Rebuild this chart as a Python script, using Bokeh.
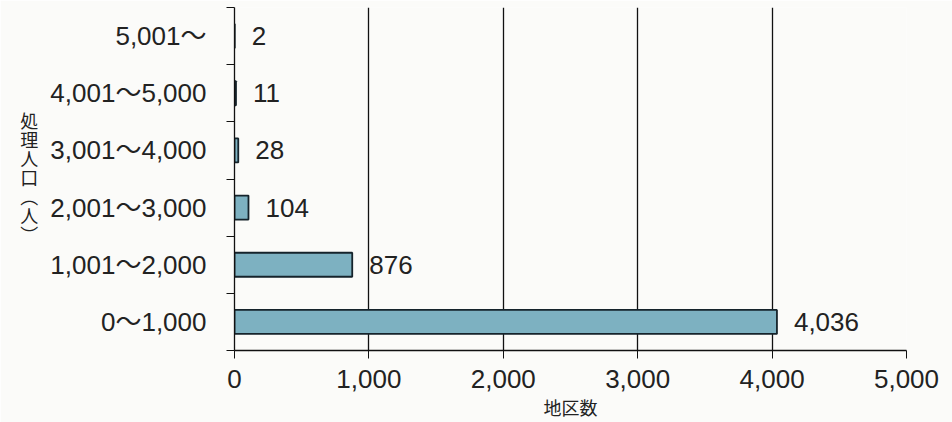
from bokeh.plotting import figure
from bokeh.models import FixedTicker, ColumnDataSource, Range1d
from bokeh.core.properties import value
from bokeh.embed import file_html
from bokeh.resources import INLINE

categories = ["0～1,000", "1,001～2,000", "2,001～3,000", "3,001～4,000", "4,001～5,000", "5,001～"]
counts = [4036, 876, 104, 28, 11, 2]
x_ticks = [0, 1000, 2000, 3000, 4000, 5000]
x_tick_labels = ["0", "1,000", "2,000", "3,000", "4,000", "5,000"]
y_title = "処理人口︵人︶"
x_title = "地区数"

FONT_S = "'Liberation Sans', 'Noto Sans CJK JP', sans-serif"
FONT = value(FONT_S)
pos = list(range(len(categories)))
src = ColumnDataSource(dict(pos=pos, count=counts, label=[f"{c:,}" for c in counts]))

p = figure(width=952, height=422, x_range=Range1d(0, 5000), y_range=Range1d(-0.5, len(categories) - 0.5),
           output_backend="svg", toolbar_location=None,
           min_border_left=234, min_border_right=46, min_border_top=7, min_border_bottom=72,
           background_fill_color="#fbfbf9", border_fill_color="#fbfbf9")
p.outline_line_color = None

p.hbar(y="pos", right="count", left=0, height=0.42, source=src,
       fill_color="#7db1c1", line_color="#15232b", line_width=1.8)
p.text(x="count", y="pos", text="label", source=src, x_offset=17,
       text_align="left", text_baseline="middle", text_font=FONT,
       text_font_size="26px", text_color="#222222")

p.ygrid.visible = False
p.xgrid.ticker = FixedTicker(ticks=x_ticks)
p.xgrid.grid_line_color = "#111111"
p.xgrid.grid_line_width = 1.3

xa = p.xaxis[0]
xa.ticker = FixedTicker(ticks=x_ticks)
xa.major_label_overrides = {t: l for t, l in zip(x_ticks, x_tick_labels)}
xa.major_tick_out = 8
xa.major_tick_in = 0
xa.minor_tick_out = 0
xa.axis_line_color = "#111111"
xa.major_tick_line_color = "#111111"
xa.axis_line_width = 1.3
xa.major_label_text_font = FONT_S
xa.major_label_text_font_size = "26px"
xa.major_label_text_color = "#222222"
xa.major_label_standoff = 11
xa.axis_label = x_title
xa.axis_label_text_font = FONT_S
xa.axis_label_text_font_size = "18px"
xa.axis_label_text_font_style = "normal"
xa.axis_label_text_color = "#222222"
xa.axis_label_standoff = 8

ya = p.yaxis[0]
ya.ticker = FixedTicker(ticks=pos, minor_ticks=[i - 0.5 for i in range(len(categories) + 1)])
ya.major_label_overrides = {i: c for i, c in enumerate(categories)}
ya.major_tick_out = 0
ya.major_tick_in = 0
ya.minor_tick_out = 8
ya.minor_tick_in = 0
ya.minor_tick_line_color = "#111111"
ya.axis_line_color = "#111111"
ya.axis_line_width = 1.3
ya.major_label_text_font = FONT_S
ya.major_label_text_font_size = "26px"
ya.major_label_text_color = "#222222"
ya.major_label_standoff = 20
ya.axis_label = "\n".join(y_title)
ya.axis_label_orientation = "horizontal"
ya.axis_label_text_font = FONT_S
ya.axis_label_text_font_size = "18px"
ya.axis_label_text_line_height = 0.95
ya.axis_label_text_font_style = "normal"
ya.axis_label_text_color = "#222222"
ya.axis_label_standoff = 9

open("out.html", "w").write(file_html(p, INLINE))
